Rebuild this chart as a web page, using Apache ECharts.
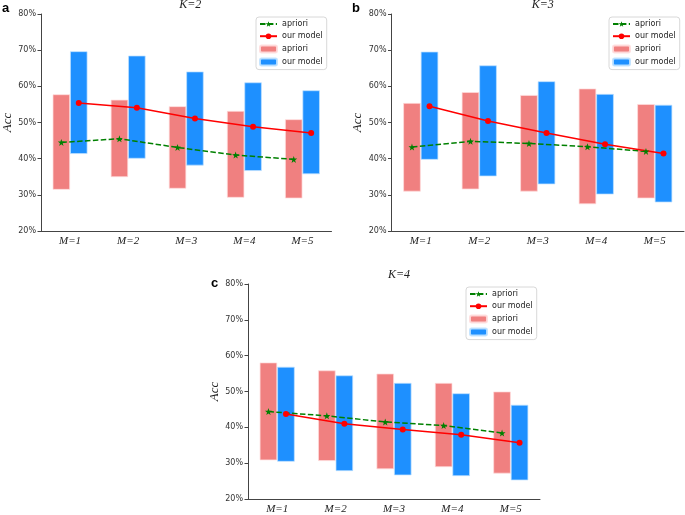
<!DOCTYPE html>
<html>
<head>
<meta charset="utf-8">
<script src="https://cdn.jsdelivr.net/npm/echarts@6/dist/echarts.min.js"></script>
<style>
html,body{margin:0;padding:0;background:#fff;}
#chart{width:685px;height:515px;}
</style>
</head>
<body>
<div id="chart"></div>
<script>
// ---- data ----
const categories = ['M=1', 'M=2', 'M=3', 'M=4', 'M=5'];
const yTickMin = 20, yTickMax = 80, yTickStep = 10;
const panelTitles = ['K=2', 'K=3', 'K=4'];
const panelLetters = ['a', 'b', 'c'];

// Panel a (K=2)
const aprioriLowA  = [31.4, 34.9, 31.7, 29.2, 29.0];
const aprioriHighA = [57.8, 56.3, 54.5, 53.2, 50.9];
const modelLowA    = [41.3, 40.0, 38.1, 36.6, 35.7];
const modelHighA   = [69.7, 68.5, 64.1, 61.1, 58.9];
const aprioriLineA = [44.5, 45.5, 43.1, 41.0, 39.8];
const modelLineA   = [55.4, 54.1, 51.1, 48.8, 47.1];

// Panel b (K=3)
const aprioriLowB  = [30.9, 31.5, 30.9, 27.4, 29.0];
const aprioriHighB = [55.4, 58.4, 57.6, 59.4, 55.1];
const modelLowB    = [39.7, 35.1, 32.9, 30.1, 27.9];
const modelHighB   = [69.6, 65.8, 61.4, 57.9, 54.9];
const aprioriLineB = [43.2, 44.8, 44.2, 43.3, 42.0];
const modelLineB   = [54.5, 50.4, 47.1, 44.0, 41.4];

// Panel c (K=4)
const aprioriLowC  = [30.8, 30.6, 28.3, 28.9, 27.1];
const aprioriHighC = [58.1, 55.9, 55.0, 52.4, 50.0];
const modelLowC    = [30.4, 27.8, 26.6, 26.4, 25.2];
const modelHighC   = [56.9, 54.5, 52.4, 49.5, 46.3];
const aprioriLineC = [44.4, 43.2, 41.5, 40.5, 38.4];
const modelLineC   = [43.7, 41.0, 39.4, 37.9, 35.7];

// ---- layout / style ----
const panels = [
  {grid:{left:39, top:14, width:292.5, height:217}, legend:{left:256, top:17}, letter:{x:2, y:2},
   data:[aprioriLowA, aprioriHighA, modelLowA, modelHighA, aprioriLineA, modelLineA]},
  {grid:{left:391.5, top:14, width:292.5, height:217}, legend:{left:609, top:17}, letter:{x:352, y:2},
   data:[aprioriLowB, aprioriHighB, modelLowB, modelHighB, aprioriLineB, modelLineB]},
  {grid:{left:248, top:284, width:292, height:217.7}, legend:{left:466, top:287}, letter:{x:211, y:277},
   data:[aprioriLowC, aprioriHighC, modelLowC, modelHighC, aprioriLineC, modelLineC]}
];

const C_APR_BAR = '#F08080', C_MOD_BAR = '#1E90FF', C_APR_LINE = '#008000', C_MOD_LINE = '#FF0000';
const AXIS_COLOR = '#444';
const SERIF = "'Liberation Serif', 'DejaVu Serif', serif";
const SANS = "'DejaVu Sans', sans-serif";
const STAR = 'path://M0,-10 L2.35,-3.24 L9.51,-3.09 L3.8,1.24 L5.88,8.09 L0,4 L-5.88,8.09 L-3.8,1.24 L-9.51,-3.09 L-2.35,-3.24 Z';
const BAR_W = 0.3; // fraction of category band

const option = {
  animation: false,
  backgroundColor: '#fff',
  grid: [], xAxis: [], yAxis: [], series: [], legend: [], title: [], graphic: []
};

panels.forEach((p, k) => {
  const [aLow, aHigh, mLow, mHigh, aLine, mLine] = p.data;
  option.grid.push(Object.assign({containLabel:false}, p.grid));
  // category axis for bars
  option.xAxis.push({
    type:'category', gridIndex:k, data:categories, boundaryGap:true,
    axisLine:{onZero:false, lineStyle:{color:AXIS_COLOR, width:1}},
    axisTick:{alignWithLabel:true, length:3.5, lineStyle:{color:AXIS_COLOR}},
    axisLabel:{fontFamily:SERIF, fontStyle:'italic', fontSize:11, color:'#222', margin:5},
    splitLine:{show:false}
  });
  // hidden value axis aligned with the category bands, for offset line points
  option.xAxis.push({
    type:'value', gridIndex:k, min:-0.5, max:categories.length - 0.5, show:false,
    axisLine:{onZero:false}
  });
  option.yAxis.push({
    type:'value', gridIndex:k, min:yTickMin, max:yTickMax, interval:yTickStep,
    name:'Acc', nameLocation:'middle', nameRotate:90, nameGap:27,
    nameTextStyle:{fontFamily:SERIF, fontStyle:'italic', fontSize:13, color:'#222'},
    axisLine:{show:true, onZero:false, lineStyle:{color:AXIS_COLOR, width:1}},
    axisTick:{show:true, length:3.5, lineStyle:{color:AXIS_COLOR}},
    axisLabel:{formatter:'{value}%', fontFamily:SANS, fontSize:8, color:'#333', margin:5},
    splitLine:{show:false}
  });
  const xCat = 2*k, xVal = 2*k + 1;
  // floating bars: transparent base + visible range
  option.series.push({
    type:'bar', name:'base_a'+k, xAxisIndex:xCat, yAxisIndex:k, stack:'apr'+k,
    data:aLow, barWidth:(BAR_W*100)+'%', barGap:'0%',
    itemStyle:{color:'transparent'}, silent:true
  });
  option.series.push({
    type:'bar', name:'apriori (bar)', xAxisIndex:xCat, yAxisIndex:k, stack:'apr'+k,
    data:aHigh.map((v,i)=>+(v - aLow[i]).toFixed(2)), barWidth:(BAR_W*100)+'%', barGap:'0%',
    itemStyle:{color:C_APR_BAR, borderColor:'rgba(255,220,220,0.9)', borderWidth:0.8}
  });
  option.series.push({
    type:'bar', name:'base_m'+k, xAxisIndex:xCat, yAxisIndex:k, stack:'mod'+k,
    data:mLow, barWidth:(BAR_W*100)+'%', barGap:'0%',
    itemStyle:{color:'transparent'}, silent:true
  });
  option.series.push({
    type:'bar', name:'our model (bar)', xAxisIndex:xCat, yAxisIndex:k, stack:'mod'+k,
    data:mHigh.map((v,i)=>+(v - mLow[i]).toFixed(2)), barWidth:(BAR_W*100)+'%', barGap:'0%',
    itemStyle:{color:C_MOD_BAR, borderColor:'rgba(190,225,255,0.9)', borderWidth:0.8}
  });
  // lines at the centres of their bars
  option.series.push({
    type:'line', name:'apriori', xAxisIndex:xVal, yAxisIndex:k, z:5,
    data:aLine.map((v,i)=>[i - BAR_W/2, v]),
    symbol:STAR, symbolSize:7,
    lineStyle:{color:C_APR_LINE, width:1.5, type:[5.5,2.4]},
    itemStyle:{color:C_APR_LINE}
  });
  option.series.push({
    type:'line', name:'our model', xAxisIndex:xVal, yAxisIndex:k, z:5,
    data:mLine.map((v,i)=>[i + BAR_W/2, v]),
    symbol:'circle', symbolSize:6,
    lineStyle:{color:C_MOD_LINE, width:1.5},
    itemStyle:{color:C_MOD_LINE}
  });
  option.legend.push({
    orient:'vertical', left:p.legend.left, top:p.legend.top,
    data:['apriori','our model','apriori (bar)','our model (bar)'],
    formatter:(n)=>n.replace(' (bar)',''),
    itemWidth:17, itemHeight:7, itemGap:4.2,
    padding:[3,4,3,3],
    borderColor:'#d8d8d8', borderWidth:1, borderRadius:3,
    backgroundColor:'rgba(255,255,255,0.8)',
    textStyle:{fontFamily:SANS, fontSize:8, color:'#222'},
    selectedMode:false
  });
  const g = p.grid;
  option.title.push({
    text:panelTitles[k], left:g.left + g.width/2, top:g.top - 20, textAlign:'center',
    textStyle:{fontFamily:SERIF, fontStyle:'italic', fontWeight:'normal', fontSize:12, color:'#222'}
  });
  option.graphic.push({
    type:'text', left:p.letter.x, top:p.letter.y,
    style:{text:panelLetters[k], font:"bold 13px 'Liberation Sans', Arial, sans-serif", fill:'#000'}
  });
});

const chart = echarts.init(document.getElementById('chart'), null, {renderer:'canvas'});
chart.setOption(option);
</script>
</body>
</html>
